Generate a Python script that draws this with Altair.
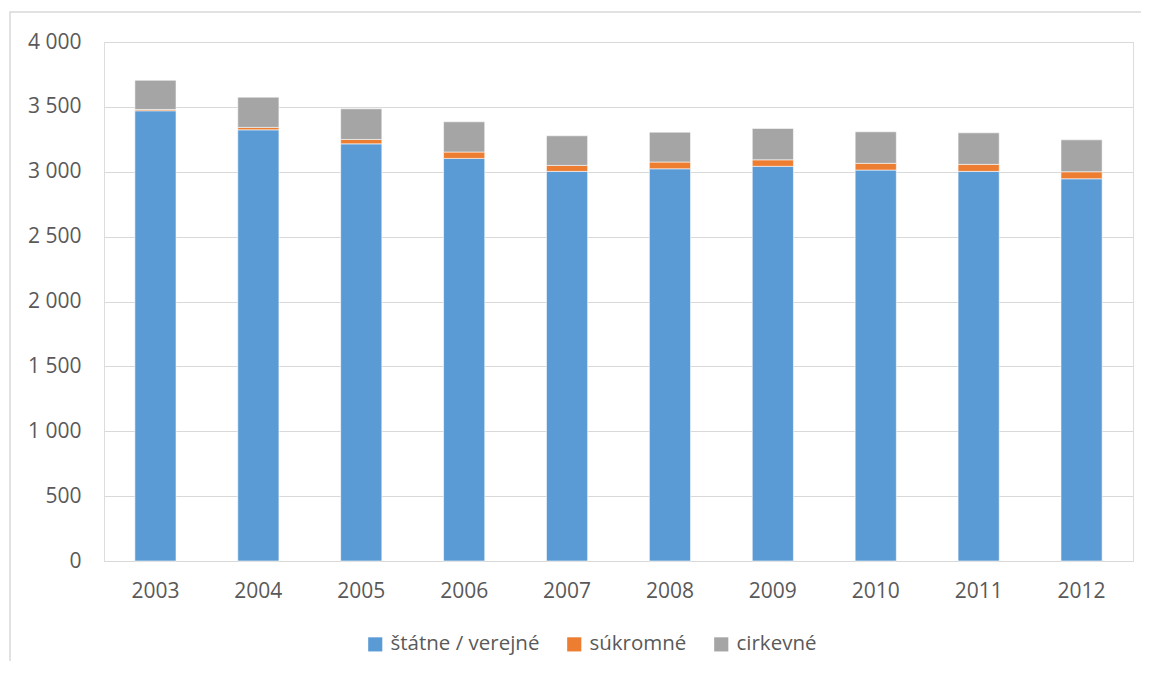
import altair as alt
import pandas as pd

years = ["2003", "2004", "2005", "2006", "2007", "2008", "2009", "2010", "2011", "2012"]
statne = [3470, 3323, 3215, 3103, 3003, 3023, 3042, 3013, 3003, 2946]
sukromne = [10, 19, 34, 49, 46, 52, 50, 52, 54, 54]
cirkevne = [225, 233, 236, 233, 228, 230, 242, 243, 243, 246]
series = ["štátne / verejné", "súkromné", "cirkevné"]
colors = ["#5B9BD5", "#ED7D31", "#A5A5A5"]

rows = []
for i, y in enumerate(years):
    for k, (name, vals) in enumerate(zip(series, [statne, sukromne, cirkevne])):
        rows.append({"rok": y, "typ": name, "pocet": vals[i], "poradie": k})
df = pd.DataFrame(rows)

FONT = "Open Sans"
TXT = "#595959"
FS = 21

bars = alt.Chart(df).mark_bar(stroke="white", strokeWidth=0.8, strokeOpacity=0.7).encode(
    x=alt.X("rok:N", title=None, sort=years,
            scale=alt.Scale(paddingInner=0.6, paddingOuter=0.3),
            axis=alt.Axis(labelAngle=0, ticks=False, domainColor="#D9D9D9", domainWidth=1,
                          labelPadding=19, labelFontSize=FS, labelColor=TXT, labelFont=FONT)),
    y=alt.Y("pocet:Q", title=None, stack="zero",
            scale=alt.Scale(domain=[0, 4000], nice=False),
            axis=alt.Axis(values=list(range(0, 4001, 500)), ticks=False, domain=False,
                          gridColor="#D9D9D9", gridWidth=1, labelPadding=23,
                          labelFontSize=FS, labelColor=TXT, labelFont=FONT,
                          labelExpr="replace(format(datum.value, ','), ',', ' ')")),
    color=alt.Color("typ:N", sort=series,
                    scale=alt.Scale(domain=series, range=colors),
                    legend=alt.Legend(title=None, orient="none", direction="horizontal",
                                      legendX=261, legendY=592, symbolType="square",
                                      symbolSize=200, symbolStrokeWidth=0, labelFontSize=20.5,
                                      labelColor=TXT, labelFont=FONT, labelOffset=5,
                                      columnPadding=24)),
    order=alt.Order("poradie:Q", sort="ascending"),
)

frame = alt.Chart(pd.DataFrame({"a": [0]})).mark_rect(
    fill=None, stroke="#D9D9D9", strokeWidth=1.5, clip=False
).encode(
    x=alt.value(-94), x2=alt.value(1060), y=alt.value(-30), y2=alt.value(660)
)

chart = alt.layer(frame, bars).properties(
    width=1029, height=519,
    autosize=alt.AutoSizeParams(type="none"),
    padding={"left": 96, "top": 34, "right": 8, "bottom": 100},
).configure_view(stroke=None).configure(background="white")

chart.save("out.html", embed_options={"renderer": "svg", "actions": False})
